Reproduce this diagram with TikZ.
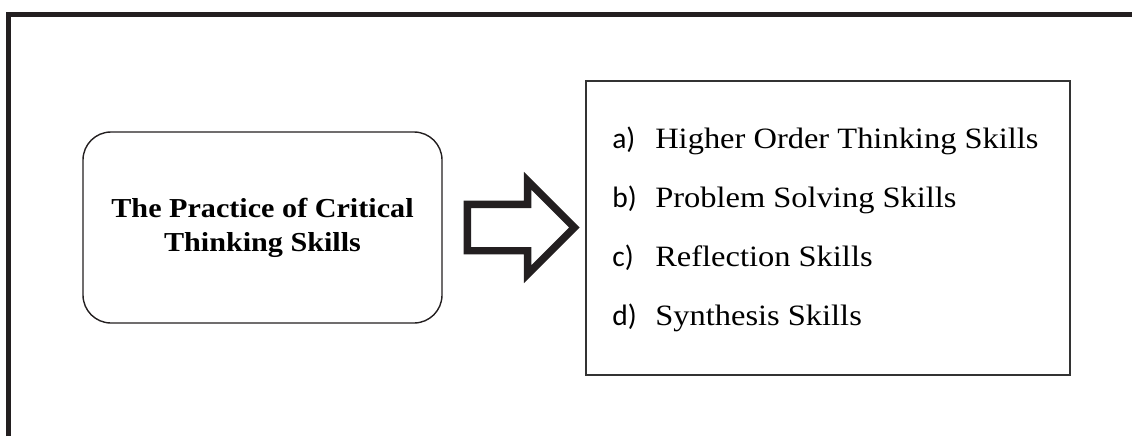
\documentclass[tikz,border=0pt]{standalone}
\usepackage{fontspec}
\setmainfont{Liberation Serif}[FakeStretch=1.1]
\newfontfamily\labelfont{Carlito}
\usepackage{tikz}
\usetikzlibrary{shapes.arrows,positioning}
\definecolor{framegray}{RGB}{35,31,32}
\definecolor{linegray}{RGB}{51,51,51}
\tikzset{
  pageframe/.style ={draw=framegray, line width=3.6pt},
  rbox/.style      ={rectangle, rounded corners=0.7cm, draw=framegray, line width=1pt,
                     minimum width=8.975cm, minimum height=4.775cm, align=center,
                     font=\fontsize{19.5}{24.2}\selectfont\bfseries},
  listbox/.style   ={rectangle, draw=linegray, line width=1.1pt,
                     minimum width=12.1cm, minimum height=7.35cm},
  blockarrow/.style={single arrow, draw=framegray, line width=5.3pt, miter limit=10,
                     inner xsep=0pt, inner ysep=0.4875cm, minimum height=2.675cm,
                     single arrow head extend=0.5875cm},
  itemlbl/.style   ={font=\labelfont\fontsize{21}{25}\selectfont, anchor=base west, inner sep=0pt},
  itemtxt/.style   ={font=\fontsize{21}{25}\selectfont, anchor=base west, inner sep=0pt}
}
\begin{document}
\begin{tikzpicture}
\useasboundingbox (0,0) rectangle (28.3,10.9);
% open frame, top and left side only
\draw[pageframe] (0.2125,0) |- (28.3,10.5375);

\node[rbox] (think) at (6.5625,5.2125) {The Practice of Critical\\Thinking Skills};
\node[blockarrow, anchor=tail] (arrow) at ([xshift=0.525cm]think.east) {};
\node[listbox] (skills) at (20.7,5.2) {};

\foreach \lbl/\txt [count=\i from 0] in {a)/Higher Order Thinking Skills,
    b)/Problem Solving Skills, c)/Reflection Skills, d)/Synthesis Skills}{
  \node[itemlbl] (lbl\i) at (15.3,{7.2-1.475*\i}) {\lbl};
  \node[itemtxt] (item\i) at (16.375,{7.2-1.475*\i}) {\txt};
}
\end{tikzpicture}
\end{document}
